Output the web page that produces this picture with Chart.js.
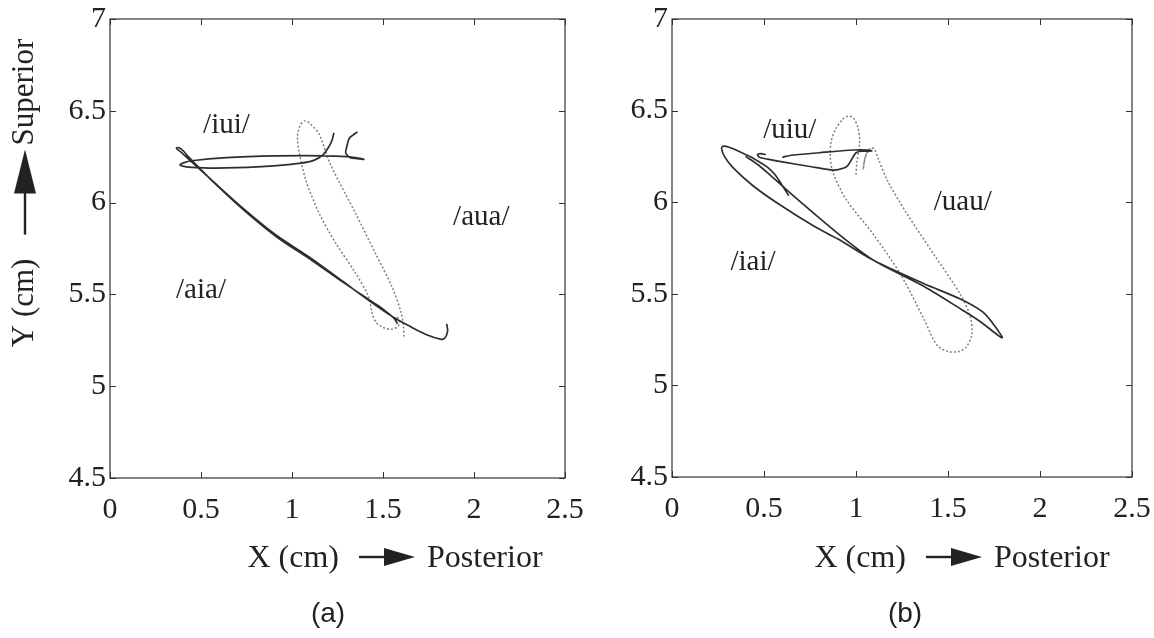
<!DOCTYPE html>
<html>
<head>
<meta charset="utf-8">
<script src="https://cdn.jsdelivr.net/npm/chart.js@4.4.1/dist/chart.umd.min.js"></script>
<style>
  body { margin: 0; background: #fff; }
  #wrap { position: relative; width: 1154px; height: 638px; }
  #wrap canvas { position: absolute; left: 0; top: 0; }
</style>
</head>
<body>
<div id="wrap">
  <canvas id="chartA" width="1154" height="638"></canvas>
  <canvas id="chartB" width="1154" height="638"></canvas>
</div>
<script>
// tick values shared by both panels
var xTicks = [0, 0.5, 1, 1.5, 2, 2.5];
var yTicks = [4.5, 5, 5.5, 6, 6.5, 7];

// panel (a) trajectories, [x, y] in cm
var iuiA = [[1.23,6.38],[1.22,6.34],[1.20,6.30],[1.17,6.26],[1.12,6.23],[1.05,6.215],[0.90,6.20],[0.70,6.19],
  [0.55,6.188],[0.42,6.195],[0.385,6.205],[0.40,6.215],[0.45,6.228],[0.64,6.245],[0.91,6.254],[1.17,6.255],
  [1.30,6.25],[1.38,6.24],[1.395,6.235],[1.36,6.24],[1.32,6.245],[1.295,6.27],[1.30,6.30],[1.315,6.35],[1.36,6.385]];
var aiaA = [[1.85,5.34],[1.855,5.30],[1.84,5.262],[1.82,5.255],[1.74,5.28],[1.64,5.33],[1.55,5.38],[1.46,5.44],
  [1.28,5.57],[1.10,5.70],[0.91,5.825],[0.73,5.97],[0.55,6.13],[0.45,6.22],[0.39,6.275],[0.365,6.295],[0.375,6.30],
  [0.40,6.285],[0.43,6.25],[0.48,6.20],[0.57,6.11],[0.74,5.955],[0.92,5.81],[1.11,5.685],[1.29,5.56],[1.44,5.46],
  [1.50,5.42],[1.56,5.37],[1.58,5.34]];
var auaA = [[1.615,5.27],[1.612,5.33],[1.60,5.40],[1.55,5.54],[1.46,5.72],[1.35,5.94],[1.21,6.21],[1.15,6.37],
  [1.10,6.43],[1.07,6.445],[1.045,6.42],[1.03,6.36],[1.04,6.27],[1.077,6.12],[1.15,5.94],[1.24,5.78],[1.35,5.615],
  [1.42,5.49],[1.44,5.40],[1.46,5.35],[1.50,5.32],[1.55,5.31],[1.585,5.33],[1.59,5.36],[1.575,5.38]];

// panel (b) trajectories
var uiuB = [[0.60,6.245],[0.64,6.255],[0.80,6.27],[0.985,6.285],[1.06,6.285],[1.085,6.28],[1.03,6.278],[1.0,6.27],
  [0.98,6.24],[0.955,6.20],[0.93,6.185],[0.88,6.175],[0.75,6.195],[0.60,6.22],[0.52,6.235],[0.475,6.245],
  [0.465,6.26],[0.48,6.265],[0.51,6.26]];
var iaiB = [[0.635,6.035],[0.60,6.09],[0.56,6.15],[0.52,6.19],[0.45,6.235],[0.38,6.27],[0.31,6.30],[0.275,6.305],
  [0.27,6.29],[0.285,6.25],[0.33,6.19],[0.44,6.09],[0.58,5.99],[0.77,5.87],[0.90,5.80],[1.10,5.68],[1.37,5.555],
  [1.57,5.47],[1.69,5.40],[1.75,5.33],[1.785,5.28],[1.795,5.26],[1.77,5.275],[1.68,5.345],[1.58,5.41],[1.37,5.54],
  [1.10,5.68],[0.95,5.79],[0.77,5.94],[0.62,6.07],[0.52,6.16],[0.46,6.21],[0.40,6.25]];
var uauB = [[1.0,6.15],[1.005,6.22],[1.02,6.33],[1.01,6.41],[0.985,6.46],[0.96,6.47],[0.93,6.455],[0.89,6.40],
  [0.865,6.33],[0.86,6.25],[0.875,6.16],[0.95,6.01],[1.09,5.83],[1.24,5.61],[1.37,5.36],[1.44,5.22],[1.50,5.185],
  [1.56,5.185],[1.60,5.21],[1.63,5.28],[1.62,5.38],[1.565,5.50],[1.42,5.72],[1.275,5.94],[1.17,6.12],[1.12,6.24],
  [1.10,6.29],[1.08,6.295],[1.06,6.27],[1.045,6.22],[1.04,6.18],[1.05,6.25],[1.07,6.28]];

// trajectory names and where they sit (data coords)
var namesA = ['/iui/', '/aia/', '/aua/'];
var namePosA = [[0.64, 6.42], [0.50, 5.52], [2.04, 5.92]];
var namesB = ['/uiu/', '/uau/', '/iai/'];
var namePosB = [[0.64, 6.39], [1.58, 6.0], [0.44, 5.67]];

var SERIF = '"Liberation Serif", "Times New Roman", serif';
var INK = '#222';

function toPoints(arr) {
    return arr.map(function(p){ return {x: p[0], y: p[1]}; });
}

function solid(arr) {
    return {data: toPoints(arr), showLine: true, pointRadius: 0, borderColor: '#2e2e2e', borderWidth: 1.7, tension: 0.3};
}

function dotted(arr) {
    return {data: toPoints(arr), showLine: true, pointRadius: 0, borderColor: '#808080', borderWidth: 1.5,
            borderDash: [2, 2], tension: 0.3};
}

// horizontal or vertical arrow, drawn in the current (maybe rotated) frame from x0 to x1 along y=yc
function drawArrow(ctx, x0, x1, yc, headLen, headW, stem) {
    ctx.fillStyle = INK;
    ctx.fillRect(x0, yc - stem / 2, x1 - headLen - x0 + 1, stem);
    ctx.beginPath();
    ctx.moveTo(x1, yc);
    ctx.lineTo(x1 - headLen, yc - headW / 2);
    ctx.lineTo(x1 - headLen, yc + headW / 2);
    ctx.closePath();
    ctx.fill();
}

// frame, inner ticks, axis titles with arrows, panel letter and trajectory names
var panelDecor = {
    id: 'panelDecor',
    afterDraw: function(chart, args, opts) {
        var ctx = chart.ctx, a = chart.chartArea;
        var xs = chart.scales.x, ys = chart.scales.y;
        ctx.save();

        ctx.strokeStyle = '#333';
        ctx.lineWidth = 1.2;
        ctx.strokeRect(a.left, a.top, a.right - a.left, a.bottom - a.top);
        ctx.beginPath();
        xTicks.forEach(function(v){
            var px = Math.round(xs.getPixelForValue(v)) + 0.5;
            ctx.moveTo(px, a.bottom); ctx.lineTo(px, a.bottom - 6);
            ctx.moveTo(px, a.top); ctx.lineTo(px, a.top + 6);
        });
        yTicks.forEach(function(v){
            var py = Math.round(ys.getPixelForValue(v)) + 0.5;
            ctx.moveTo(a.left, py); ctx.lineTo(a.left + 6, py);
            ctx.moveTo(a.right, py); ctx.lineTo(a.right - 6, py);
        });
        ctx.lineWidth = 1;
        ctx.stroke();

        // trajectory names
        ctx.fillStyle = INK;
        ctx.font = '29px ' + SERIF;
        ctx.textAlign = 'center';
        ctx.textBaseline = 'middle';
        opts.names.forEach(function(t, i){
            ctx.fillText(t, xs.getPixelForValue(opts.namePos[i][0]), ys.getPixelForValue(opts.namePos[i][1]));
        });

        // x title: X (cm) --> Posterior
        ctx.font = '32px ' + SERIF;
        ctx.textAlign = 'left';
        ctx.textBaseline = 'alphabetic';
        var t1 = 'X (cm)', t2 = 'Posterior';
        var w1 = ctx.measureText(t1).width, w2 = ctx.measureText(t2).width;
        var gapA = 20, arrowLen = 56, gapB = 12;
        var total = w1 + gapA + arrowLen + gapB + w2;
        var sx = a.left + opts.xTitleOffset - total / 2;
        var base = 567;
        ctx.fillText(t1, sx, base);
        drawArrow(ctx, sx + w1 + gapA, sx + w1 + gapA + arrowLen, base - 10, 31, 18, 2.4);
        ctx.fillStyle = INK;
        ctx.fillText(t2, sx + w1 + gapA + arrowLen + gapB, base);

        // y title: Y (cm) --> Superior, reading upward
        if (opts.yTitle) {
            ctx.save();
            ctx.translate(25, 193);
            ctx.rotate(-Math.PI / 2);
            ctx.font = '31px ' + SERIF;
            ctx.textBaseline = 'middle';
            var y1 = 'Y (cm)', y2 = 'Superior';
            var v1 = ctx.measureText(y1).width, v2 = ctx.measureText(y2).width;
            var g1 = 24, len = 85, g2 = 4;
            var tot = v1 + g1 + len + g2 + v2;
            var s = -tot / 2;
            ctx.fillText(y1, s, 0);
            drawArrow(ctx, s + v1 + g1, s + v1 + g1 + len, 0, 44, 22, 2.4);
            ctx.fillStyle = INK;
            ctx.fillText(y2, s + v1 + g1 + len + g2, 0);
            ctx.restore();
        }

        // panel letter
        ctx.font = '28px "Liberation Sans", Arial, sans-serif';
        ctx.textAlign = 'center';
        ctx.textBaseline = 'middle';
        ctx.fillText(opts.caption, opts.captionX, 614);

        ctx.restore();
    }
};

function makePanel(id, datasets, pad, yWidth, xHeight, decor) {
    return new Chart(document.getElementById(id), {
        type: 'scatter',
        data: {datasets: datasets},
        options: {
            responsive: false,
            animation: false,
            events: [],
            layout: {padding: pad},
            plugins: {
                legend: {display: false},
                tooltip: {enabled: false},
                panelDecor: decor
            },
            scales: {
                x: {
                    type: 'linear', min: 0, max: 2.5,
                    grid: {display: false, drawTicks: false},
                    border: {display: false},
                    ticks: {stepSize: 0.5, padding: 14, color: INK, font: {family: SERIF, size: 30},
                            maxRotation: 0, callback: function(v){ return String(v); }},
                    afterFit: function(s){ s.height = xHeight; s.paddingLeft = 0; s.paddingRight = 0; }
                },
                y: {
                    type: 'linear', min: 4.5, max: 7,
                    grid: {display: false, drawTicks: false},
                    border: {display: false},
                    ticks: {stepSize: 0.5, padding: 4, color: INK, font: {family: SERIF, size: 30},
                            callback: function(v){ return String(v); }},
                    afterFit: function(s){ s.width = yWidth; s.paddingTop = 0; s.paddingBottom = 0; }
                }
            }
        },
        plugins: [panelDecor]
    });
}

makePanel('chartA', [solid(aiaA), solid(iuiA), dotted(auaA)],
    {left: 0, top: 19, right: 589, bottom: 0}, 110, 160,
    {names: namesA, namePos: namePosA, yTitle: true, caption: '(a)', captionX: 328, xTitleOffset: 285});

makePanel('chartB', [solid(iaiB), solid(uiuB), dotted(uauB)],
    {left: 600, top: 19, right: 22, bottom: 0}, 72, 161,
    {names: namesB, namePos: namePosB, yTitle: false, caption: '(b)', captionX: 905, xTitleOffset: 290});
</script>
</body>
</html>
